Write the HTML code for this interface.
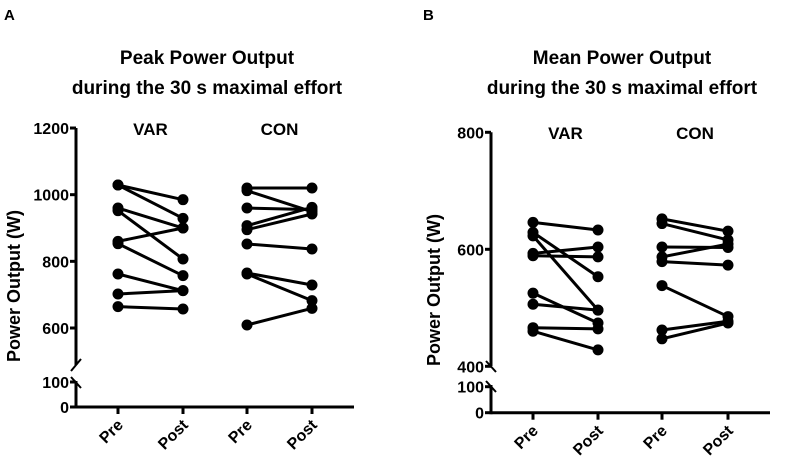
<!DOCTYPE html>
<html><head><meta charset="utf-8"><style>
body{margin:0;background:#fff;width:789px;height:461px;overflow:hidden}
svg{display:block;font-family:"Liberation Sans",Arial,sans-serif;font-weight:bold}
</style></head><body>
<svg id="chart" width="789" height="461">
<text x="4" y="20" font-size="15">A</text>
<text x="423" y="20" font-size="15">B</text>
<text x="207" y="64" font-size="19" text-anchor="middle">Peak Power Output</text>
<text x="207" y="94" font-size="19" text-anchor="middle">during the 30 s maximal effort</text>
<text x="622" y="64" font-size="19" text-anchor="middle">Mean Power Output</text>
<text x="622" y="94" font-size="19" text-anchor="middle">during the 30 s maximal effort</text>
<g id="ga"></g><g id="gb"></g>
</svg>
<script>
const groups=["VAR","CON"];
const conditions=["Pre","Post"];
const peakVarPre=[1029,1029,960,952,860,853,762,702,664];
const peakVarPost=[985,929,900,807,900,757,712,712,657];
const peakConPre=[1020,1012,960,907,895,852,765,762,609];
const peakConPost=[1020,949,955,962,942,837,729,682,659];
const meanVarPre=[646,629,623,593,589,525,506,466,460];
const meanVarPost=[633,553,496,604,587,474,496,464,428];
const meanConPre=[652,644,604,587,579,538,462,447];
const meanConPost=[631,616,603,609,573,485,477,474];
const peakTicks=[600,800,1000,1200];
const meanTicks=[400,600,800];
const lowTicks=[0,100];
const NS="http://www.w3.org/2000/svg";
function mk(p,t,a,name){const e=document.createElementNS(NS,t);for(const k in a)e.setAttribute(k,a[k]);


p.appendChild(e);return e;}
function panel(g,cfg){
 const ax=cfg.ax, yU=cfg.yU, yL=cfg.yL;
 const st={stroke:"#000","stroke-width":3,fill:"none"};
 mk(g,"line",{...st,x1:ax,y1:yU(cfg.top),x2:ax,y2:cfg.breakTop},"y-axis-upper");
 mk(g,"line",{...st,x1:ax,y1:cfg.breakBot,x2:ax,y2:yL(0)+1.5},"y-axis-lower");
 mk(g,"line",{...st,x1:ax,y1:yL(0),x2:cfg.xEnd,y2:yL(0)},"x-axis");
 mk(g,"line",{stroke:"#000","stroke-width":2,x1:ax-5,y1:cfg.m1[0],x2:ax+5,y2:cfg.m1[1]},"axis-break-mark");
 mk(g,"line",{stroke:"#000","stroke-width":2,x1:ax-5,y1:cfg.breakBot-4,x2:ax+5,y2:cfg.breakBot+7},"axis-break-mark");
 cfg.ticks.forEach(v=>{const y=yU(v);
  mk(g,"line",{stroke:"#000","stroke-width":3,x1:ax-6,y1:y,x2:ax,y2:y},"y-tick");
  const t=mk(g,"text",{x:ax-7,y:y+6,"font-size":16,"text-anchor":"end"},"y-tick-label");t.textContent=v;});
 lowTicks.forEach(v=>{const y=yL(v);
  mk(g,"line",{stroke:"#000","stroke-width":3,x1:ax-6,y1:y,x2:ax,y2:y},"y-tick");
  const t=mk(g,"text",{x:ax-7,y:y+6,"font-size":16,"text-anchor":"end"},"y-tick-label");t.textContent=v;});
 const yt=mk(g,"text",{x:0,y:0,"font-size":18,"text-anchor":"middle",transform:`translate(${cfg.ytx},${cfg.yty}) rotate(-90)`},"y-axis-title");yt.textContent="Power Output (W)";
 const xs=cfg.xs;
 xs.forEach((x,i)=>{
  mk(g,"line",{stroke:"#000","stroke-width":3,x1:x,y1:yL(0),x2:x,y2:yL(0)+7},"x-tick");
  const t=mk(g,"text",{x:0,y:0,"font-size":16,"text-anchor":"end",transform:`translate(${x+6},${yL(0)+19}) rotate(-45)`},"x-tick-label");t.textContent=conditions[i%2];});
 groups.forEach((gn,gi)=>{
  const t=mk(g,"text",{x:(xs[gi*2]+xs[gi*2+1])/2,y:cfg.gy,"font-size":17,"text-anchor":"middle"},"group-label-"+gn.toLowerCase());t.textContent=gn;
  const pre=cfg.data[gi][0],post=cfg.data[gi][1];
  pre.forEach((v,i)=>{
   mk(g,"line",{stroke:"#000","stroke-width":3,x1:xs[gi*2],y1:yU(v),x2:xs[gi*2+1],y2:yU(post[i])},"subject-line");
   mk(g,"circle",{cx:xs[gi*2],cy:yU(v),r:5.5,fill:"#000"},"pre-point");
   mk(g,"circle",{cx:xs[gi*2+1],cy:yU(post[i]),r:5.5,fill:"#000"},"post-point");
  });
 });
}
panel(document.getElementById("ga"),{ax:76,xEnd:354,top:1200,ticks:peakTicks,
 yU:v=>328-(v-600)*0.3333,yL:v=>407-v*0.25,breakTop:365,breakBot:381,m1:[371,359],
 ytx:20,yty:286,xs:[118,183,247,312],gy:135,
 data:[[peakVarPre,peakVarPost],[peakConPre,peakConPost]]});
panel(document.getElementById("gb"),{ax:491,xEnd:770,top:800,ticks:meanTicks,
 yU:v=>249.3-(v-600)*0.585,yL:v=>412.7-v*0.26,breakTop:366,breakBot:385,m1:[361,372],
 ytx:440,yty:290,xs:[533,598,662,728],gy:139,
 data:[[meanVarPre,meanVarPost],[meanConPre,meanConPost]]});
</script>
</body></html>
